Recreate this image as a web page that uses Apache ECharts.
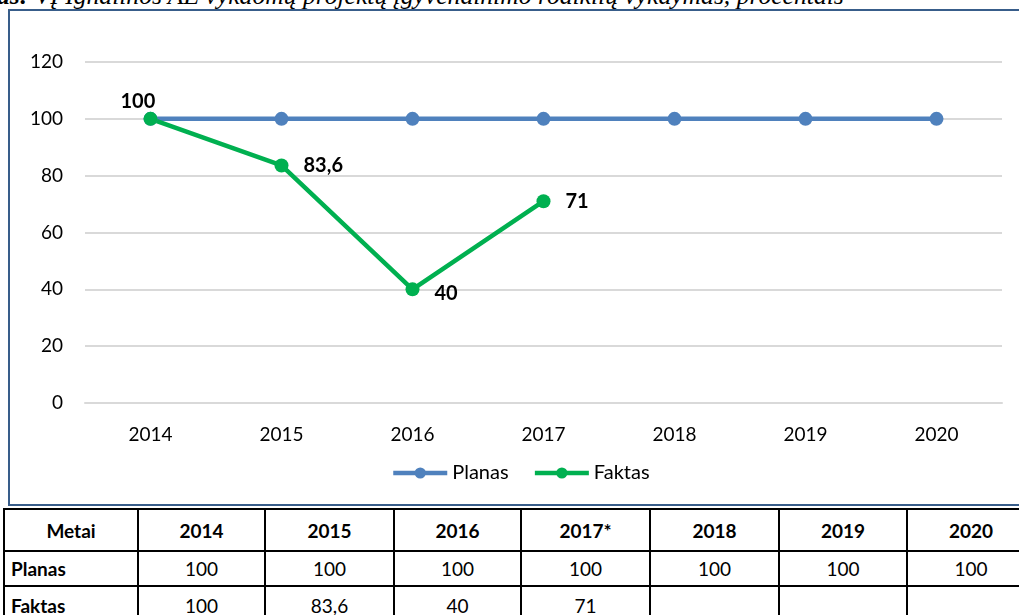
<!DOCTYPE html>
<html>
<head>
<meta charset="utf-8">
<script src="https://cdn.jsdelivr.net/npm/echarts@6/dist/echarts.min.js"></script>
<style>
  body { margin: 0; width: 1019px; height: 615px; overflow: hidden; background: #fff; position: relative; }
  #title { position: absolute; left: -3px; top: -17px; font-family: "Liberation Serif", serif; font-style: italic; font-size: 25.6px; line-height: 25px; white-space: nowrap; color: #000; }
  #box { position: absolute; left: 8px; top: 9px; width: 1100px; height: 497px; border: 2px solid #385d8a; border-right: none; box-sizing: border-box; }
  #chart { position: absolute; left: 0; top: 0; width: 1019px; height: 506px; }
  table { position: absolute; left: 3px; top: 508px; width: 1031px; border-collapse: collapse; font-family: Lato, "Open Sans", sans-serif; font-size: 19px; table-layout: fixed; }
  td { border: 2px solid #000; text-align: center; padding: 0; height: 33px; }
  tr.h td { font-weight: bold; height: 40px; }
  tr.f td { height: 40px; vertical-align: top; padding-top: 7px; }
  td.r { font-weight: bold; text-align: left; padding-left: 6px; }
</style>
</head>
<body>
<div id="title"><b>as:</b> VĮ Ignalinos AE vykdomų projektų įgyvendinimo rodiklių vykdymas, procentais</div>
<div id="box"></div>
<div id="chart"></div>
<table id="tbl"></table>
<script>
  const years = ['2014', '2015', '2016', '2017', '2018', '2019', '2020']
  const tableYears = ['2014', '2015', '2016', '2017*', '2018', '2019', '2020']
  const planas = [100, 100, 100, 100, 100, 100, 100]
  const faktas = [100, 83.6, 40, 71, null, null, null]
  const faktasText = ['100', '83,6', '40', '71', '', '', '']

  // table under the chart
  const tbl = document.getElementById('tbl')
  const widths = [134, 127, 129, 127, 129, 129, 128, 128]
  let html = '<colgroup>' + widths.map(w => '<col style="width:' + w + 'px">').join('') + '</colgroup>'
  html += '<tr class="h"><td>Metai</td>' + tableYears.map(y => '<td>' + y + '</td>').join('') + '</tr>'
  html += '<tr><td class="r">Planas</td>' + planas.map(v => '<td>' + v + '</td>').join('') + '</tr>'
  html += '<tr class="f"><td class="r">Faktas</td>' + faktasText.map(v => '<td>' + v + '</td>').join('') + '</tr>'
  tbl.innerHTML = html

  const myChart = echarts.init(document.getElementById('chart'))
  const font = 'Lato, "Open Sans", sans-serif'
  myChart.setOption({
    textStyle: { fontFamily: font },
    animation: false,
    grid: { left: 85, right: 17, top: 62, bottom: 103 },
    legend: {
      top: 458,
      left: 386,
      itemWidth: 54,
      itemHeight: 14,
      itemGap: 24,
      lineStyle: { width: 4.5 },
      textStyle: { fontSize: 20, color: '#000', fontFamily: font },
      data: ['Planas', 'Faktas']
    },
    xAxis: {
      type: 'category',
      data: years,
      axisLine: { lineStyle: { color: '#d9d9d9', width: 2 } },
      axisTick: { show: false },
      axisLabel: { fontSize: 19, color: '#000', margin: 22 }
    },
    yAxis: {
      type: 'value',
      min: 0,
      max: 120,
      interval: 20,
      splitLine: { lineStyle: { color: '#d9d9d9', width: 2 } },
      axisLabel: { fontSize: 19, color: '#000', margin: 22 }
    },
    series: [
      {
        name: 'Planas',
        type: 'line',
        data: planas,
        symbol: 'circle',
        symbolSize: 14,
        itemStyle: { color: '#4f81bd' },
        lineStyle: { width: 4.5, color: '#4f81bd' }
      },
      {
        name: 'Faktas',
        type: 'line',
        data: faktas,
        symbol: 'circle',
        symbolSize: 14,
        itemStyle: { color: '#00b050' },
        lineStyle: { width: 4.5, color: '#00b050' },
        label: {
          show: true,
          position: 'right',
          distance: 15,
          fontSize: 20,
          fontWeight: 'bold',
          color: '#000',
          formatter: p => String(p.value).replace('.', ',')
        },
        labelLayout: p => p.dataIndex === 0 ? { dx: -52, dy: -17 } : (p.dataIndex === 2 ? { dy: 4 } : {})
      }
    ]
  })
</script>
</body>
</html>
